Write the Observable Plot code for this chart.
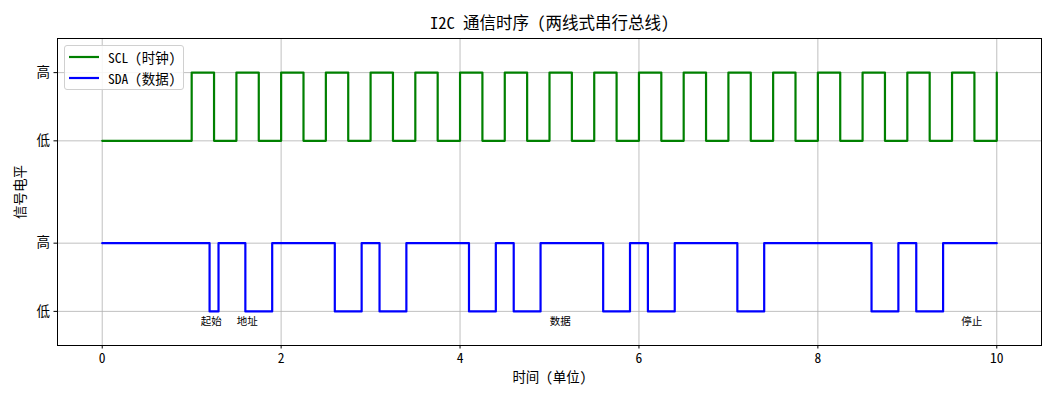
<!DOCTYPE html>
<html><head><meta charset="utf-8">
<script src="https://cdn.jsdelivr.net/npm/d3@7"></script>
<script src="https://cdn.jsdelivr.net/npm/@observablehq/plot@0.6"></script>
<style>
body{margin:0;background:#fff;}
#wrap{position:relative;width:1056px;height:400px;font-family:"Noto Sans Mono CJK SC","Noto Sans CJK SC",sans-serif;}
#legend{position:absolute;left:64px;top:45px;width:120px;height:45px;border:1px solid #d0d0d0;border-radius:3px;background:rgba(255,255,255,0.85);font-size:13.5px;color:#000;box-sizing:border-box;}
.item{position:absolute;left:4px;height:18px;display:flex;align-items:center;}
.item svg{margin-right:9px;}
</style></head><body><div id="wrap"></div>
<script>
// SCL clock: time points and levels (1 = 高, 0 = 低)
const sclTimes = [0,1,1.25,1.5,1.75,2,2.25,2.5,2.75,3,3.25,3.5,3.75,4,4.25,4.5,4.75,5,5.25,5.5,5.75,6,6.25,6.5,6.75,7,7.25,7.5,7.75,8,8.25,8.5,8.75,9,9.25,9.5,9.75,10];
const sclLevels = [0,1,0,1,0,1,0,1,0,1,0,1,0,1,0,1,0,1,0,1,0,1,0,1,0,1,0,1,0,1,0,1,0,1,0,1,0,1];
// SDA data line
const sdaTimes = [0,1.2,1.3,1.6,1.9,2.6,2.9,3.1,3.4,4.1,4.4,4.6,4.9,5.6,5.9,6.1,6.4,7.1,7.4,8.6,8.9,9.1,9.4,10];
const sdaLevels = [1,0,1,0,1,0,1,0,1,0,1,0,1,0,1,0,1,0,1,0,1,0,1,1];
const sclOffset = 2.5;
const yTicks = [0,1,2.5,3.5];
const yTickLabels = ["低","高","低","高"];
const xTicks = [0,2,4,6,8,10];
const noteTexts = ["起始","地址","数据","停止"];
const noteX = [1.22,1.62,5.12,9.72];
const noteY = -0.15;
const title = "I2C 通信时序 (两线式串行总线)";
const xLabel = "时间 (单位)";
const yLabel = "信号电平";
const seriesNames = ["SCL (时钟)","SDA (数据)"];
const seriesColors = ["green","blue"];

const scl = sclTimes.map((t,i)=>({t, v: sclLevels[i] + sclOffset}));
const sda = sdaTimes.map((t,i)=>({t, v: sdaLevels[i]}));
const notes = noteTexts.map((s,i)=>({x: noteX[i], y: noteY, s}));
const labelOf = new Map(yTicks.map((v,i)=>[v, yTickLabels[i]]));

const grid = {stroke:"#b0b0b0", strokeOpacity:1, strokeWidth:0.8};
const plot = Plot.plot({
  width:1056, height:400,
  marginLeft:57, marginRight:15, marginTop:38, marginBottom:55,
  style:{fontFamily:'"Noto Sans Mono CJK SC","Noto Sans CJK SC",sans-serif', fontSize:"13.5px", color:"#000", background:"#fff"},
  x:{domain:[-0.5,10.5]},
  y:{domain:[-0.5,4]},
  marks:[
    Plot.gridX(xTicks, grid),
    Plot.gridY(yTicks, grid),
    Plot.axisX(xTicks, {tickSize:3.5, tickPadding:4, fontSize:13.5, label:null, stroke:"#000"}),
    Plot.axisY(yTicks, {tickSize:3.5, tickPadding:4, fontSize:13.5, label:null, tickFormat:d=>labelOf.get(d), stroke:"#000"}),
    Plot.line(scl, {x:"t", y:"v", curve:"step-after", stroke:seriesColors[0], strokeWidth:2.2}),
    Plot.line(sda, {x:"t", y:"v", curve:"step-after", stroke:seriesColors[1], strokeWidth:2.2}),
    Plot.text(notes, {x:"x", y:"y", text:"s", fontSize:10.5, fill:"#000"}),
    Plot.frame({stroke:"#000", strokeWidth:1}),
    Plot.text([title], {frameAnchor:"top", dy:-14.5, lineAnchor:"middle", fontSize:16.5, fill:"#000"}),
    Plot.text([xLabel], {frameAnchor:"bottom", dy:32, lineAnchor:"middle", fontSize:13.5, fill:"#000"}),
    Plot.text([yLabel], {frameAnchor:"left", dx:-37, rotate:-90, lineAnchor:"middle", textAnchor:"middle", fontSize:13.5, fill:"#000"})
  ]
});
const wrap = document.getElementById("wrap");
wrap.appendChild(plot);
const lg = document.createElement("div");
lg.id = "legend";
seriesNames.forEach((n,i)=>{
  const it = document.createElement("div");
  it.className = "item";
  it.style.top = (2 + i*21) + "px";
  it.innerHTML = `<svg width="30" height="6"><line x1="0" x2="30" y1="3" y2="3" stroke="${seriesColors[i]}" stroke-width="2.2"/></svg><span>${n}</span>`;
  lg.appendChild(it);
});
wrap.appendChild(lg);
</script>
</body></html>
